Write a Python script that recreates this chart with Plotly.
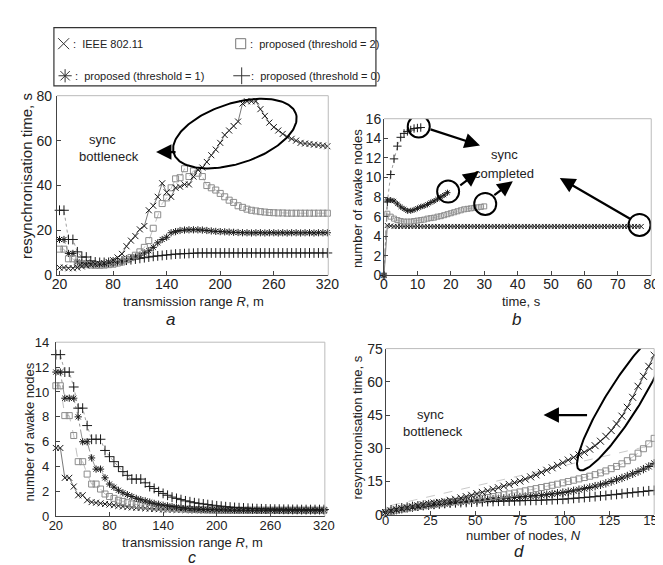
import numpy as np
import plotly.graph_objects as go

W, H = 663, 565
FONT = "Liberation Sans, Arial, Helvetica, sans-serif"

# ---------------- data ----------------
range_R = list(range(20, 321, 5))  # transmission range R, m (panels a and c)

a_ieee = [3.5, 3.5, 3.2, 3.2, 3.5, 4.0, 4.5, 4.8, 5.0, 5.2,
          5.5, 6.0, 6.8, 8.0, 9.6, 13.0, 15.5, 17.5, 20.5, 22.0,
          29.0, 31.0, 35.0, 41.0, 37.0, 35.0, 39.0, 39.5, 40.5, 40.5,
          44.0, 47.0, 48.0, 50.5, 53.5, 56.0, 59.0, 62.5, 64.5, 66.5,
          68.5, 76.5, 77.5, 77.5, 77.5, 74.0, 71.0, 68.0, 66.0, 64.5,
          63.0, 61.7, 60.8, 60.0, 59.0, 58.7, 58.5, 58.2, 58.0, 57.8, 57.5]
a_thr2 = [11.7, 11.7, 7.4, 7.4, 5.5, 5.0, 4.8, 4.6, 4.5, 4.5,
          4.6, 4.8, 5.0, 5.5, 6.0, 7.0, 8.0, 9.0, 10.5, 12.5,
          15.5, 21.0, 27.0, 32.0, 34.5, 39.0, 43.0, 43.5, 47.5, 44.0,
          46.5, 45.5, 44.0, 40.0, 39.0, 38.0, 36.5, 35.0, 33.5, 32.5,
          31.0, 30.3, 29.5, 29.0, 28.7, 28.4, 28.2, 28.0, 27.9, 27.8,
          27.8, 27.7, 27.7, 27.7, 27.7, 27.7, 27.7, 27.7, 27.7, 27.7, 27.7]
a_thr1 = [16.0, 16.0, 9.8, 9.8, 6.0, 5.5, 5.5, 5.2, 5.0, 5.0,
          5.0, 5.2, 5.5, 5.8, 6.2, 6.8, 7.5, 8.2, 9.0, 10.0,
          11.0, 12.5, 14.5, 16.0, 17.0, 19.0, 19.5, 20.0, 20.2, 20.3,
          20.3, 20.3, 20.2, 20.0, 19.8, 19.6, 19.5, 19.4, 19.3, 19.2,
          19.1, 19.0, 19.0, 18.9, 19.0, 19.0, 18.9, 19.0, 19.0, 18.9,
          19.0, 18.9, 19.0, 19.0, 18.9, 19.0, 19.0, 18.9, 19.0, 19.0, 19.0]
a_thr0 = [29.0, 29.0, 16.0, 16.0, 10.5, 8.2, 8.2, 6.5, 6.0, 5.8,
          5.8, 5.8, 6.0, 6.2, 6.5, 6.8, 7.0, 7.3, 7.6, 7.9,
          8.2, 8.5, 8.7, 8.9, 9.1, 9.3, 9.5, 9.6, 9.7, 9.8,
          9.9, 10.0, 10.0, 10.0, 10.0, 10.0, 10.0, 10.0, 10.0, 10.0,
          10.0, 10.0, 10.0, 10.0, 10.0, 10.0, 10.0, 10.0, 10.0, 10.0,
          10.0, 10.0, 10.0, 10.0, 10.0, 10.0, 10.0, 10.0, 10.0, 10.0, 10.0]

# panel b: number of awake nodes vs time
b_t_ieee = list(range(0, 78))
b_ieee = [0.0, 5.1, 5.05, 5.0, 5.0, 5.0, 5.0, 5.0, 5.0, 5.0,
          5.0, 5.0, 5.0, 5.0, 5.0, 5.0, 5.0, 5.0, 5.0, 5.0,
          5.0, 5.0, 5.0, 5.0, 5.0, 5.0, 5.0, 5.0, 5.0, 5.0,
          5.0, 5.0, 5.0, 5.0, 5.0, 5.0, 5.0, 5.0, 5.0, 5.0,
          5.0, 5.0, 5.0, 5.0, 5.0, 5.0, 5.0, 5.0, 5.0, 5.0,
          5.0, 5.0, 5.0, 5.0, 5.0, 5.0, 5.0, 5.0, 5.0, 5.0,
          5.0, 5.0, 5.0, 5.0, 5.0, 5.0, 5.0, 5.0, 5.0, 5.0,
          5.0, 5.0, 5.0, 5.0, 5.0, 5.0, 5.0, 5.0]
b_t_thr2 = list(range(0, 31))
b_thr2 = [0.0, 6.3, 6.0, 5.8, 5.65, 5.55, 5.5, 5.5, 5.5, 5.55,
          5.6, 5.65, 5.7, 5.8, 5.85, 5.9, 6.0, 6.05, 6.15, 6.25,
          6.35, 6.45, 6.55, 6.65, 6.75, 6.8, 6.85, 6.9, 6.95, 7.0, 7.05]
b_t_thr1 = list(range(0, 20))
b_thr1 = [0.0, 7.7, 7.7, 7.6, 7.3, 7.0, 6.8, 6.6, 6.6, 6.7,
          6.85, 7.0, 7.1, 7.25, 7.45, 7.6, 7.8, 8.0, 8.2, 8.45]
b_t_thr0 = list(range(0, 12))
b_thr0 = [0.0, 7.5, 10.3, 11.9, 13.2, 14.1, 14.5, 14.7, 14.85, 15.0, 15.05, 15.1]

# panel c: number of awake nodes vs transmission range
c_ieee = [5.5, 5.5, 3.1, 3.1, 2.4, 1.7, 1.7, 1.3, 1.15, 1.1,
          1.05, 1.0, 0.95, 0.9, 0.85, 0.8, 0.75, 0.72, 0.7, 0.68,
          0.65, 0.62, 0.6, 0.58, 0.56, 0.55, 0.54, 0.53, 0.52, 0.51,
          0.5, 0.5, 0.5, 0.5, 0.5, 0.5, 0.5, 0.5, 0.5, 0.5,
          0.5, 0.5, 0.5, 0.5, 0.5, 0.5, 0.5, 0.5, 0.5, 0.5,
          0.5, 0.5, 0.5, 0.5, 0.5, 0.5, 0.5, 0.5, 0.5, 0.5, 0.5]
c_thr2 = [10.5, 10.5, 8.1, 8.1, 6.5, 4.4, 4.4, 3.4, 2.6, 2.6,
          2.2, 1.8, 1.6, 1.45, 1.3, 1.2, 1.1, 1.0, 0.95, 0.9,
          0.85, 0.8, 0.75, 0.72, 0.7, 0.67, 0.64, 0.62, 0.6, 0.58,
          0.56, 0.55, 0.54, 0.53, 0.52, 0.51, 0.5, 0.5, 0.5, 0.5,
          0.5, 0.5, 0.5, 0.5, 0.5, 0.5, 0.5, 0.5, 0.5, 0.5,
          0.5, 0.5, 0.5, 0.5, 0.5, 0.5, 0.5, 0.5, 0.5, 0.5, 0.5]
c_thr1 = [11.6, 11.6, 9.5, 9.5, 9.5, 8.0, 6.0, 6.0, 4.7, 3.8,
          3.8, 3.1, 2.6, 2.35, 2.1, 1.9, 1.75, 1.6, 1.45, 1.35,
          1.25, 1.15, 1.05, 0.98, 0.9, 0.85, 0.8, 0.75, 0.7, 0.66,
          0.62, 0.6, 0.58, 0.56, 0.55, 0.54, 0.53, 0.52, 0.52, 0.51,
          0.5, 0.5, 0.5, 0.5, 0.5, 0.5, 0.5, 0.5, 0.5, 0.5,
          0.5, 0.5, 0.5, 0.5, 0.5, 0.5, 0.5, 0.5, 0.5, 0.5, 0.5]
c_thr0 = [13.0, 13.0, 11.6, 11.6, 10.4, 8.7, 8.7, 7.3, 6.2, 6.2,
          6.2, 5.3, 4.8, 4.4, 4.0, 3.6, 3.3, 3.0, 3.0, 3.0,
          2.7, 2.4, 2.25, 2.0, 1.85, 1.7, 1.55, 1.45, 1.35, 1.25,
          1.18, 1.1, 1.05, 1.0, 0.95, 0.9, 0.85, 0.82, 0.78, 0.75,
          0.72, 0.7, 0.68, 0.66, 0.64, 0.62, 0.61, 0.6, 0.59, 0.58,
          0.58, 0.57, 0.57, 0.56, 0.56, 0.55, 0.55, 0.55, 0.55, 0.55, 0.55]

# panel d: resynchronisation time vs number of nodes
nodes_N = list(range(0, 151, 3))
d_ieee = [1.0, 1.8, 2.3, 2.8, 3.2, 3.6, 4.0, 4.5, 4.9, 5.3,
          5.6, 6.0, 6.5, 7.0, 7.6, 8.2, 8.8, 9.5, 10.1, 10.8,
          11.5, 12.2, 12.9, 13.7, 14.5, 15.2, 16.1, 17.1, 18.0, 19.1,
          20.1, 21.2, 22.3, 23.5, 24.7, 25.9, 27.0, 28.2, 29.6, 31.2,
          33.2, 35.4, 38.0, 41.0, 44.5, 48.5, 53.0, 58.0, 62.5, 67.0, 72.0]
d_thr2 = [1.0, 1.6, 2.1, 2.6, 3.0, 3.4, 3.8, 4.1, 4.4, 4.7,
          5.0, 5.3, 5.6, 5.9, 6.2, 6.5, 6.8, 7.1, 7.4, 7.8,
          8.2, 8.6, 9.0, 9.4, 9.8, 10.3, 10.8, 11.3, 11.8, 12.3,
          12.8, 13.3, 13.8, 14.4, 15.0, 15.6, 16.2, 16.8, 17.4, 18.1,
          18.9, 19.8, 20.8, 21.8, 23.0, 24.4, 26.0, 27.8, 29.8, 32.0, 34.5]
d_thr1 = [1.0, 1.6, 2.1, 2.5, 2.9, 3.3, 3.6, 3.9, 4.2, 4.5,
          4.8, 5.0, 5.3, 5.5, 5.8, 6.0, 6.2, 6.4, 6.6, 6.8,
          7.0, 7.2, 7.4, 7.6, 7.8, 8.0, 8.2, 8.4, 8.6, 8.8,
          9.1, 9.4, 9.7, 10.0, 10.4, 10.8, 11.3, 11.8, 12.3, 12.9,
          13.5, 14.2, 15.0, 15.8, 16.6, 17.5, 18.5, 19.5, 20.6, 21.8, 23.2]
d_thr0 = [1.5, 2.2, 2.7, 3.1, 3.4, 3.7, 4.0, 4.3, 4.5, 4.7,
          4.9, 5.1, 5.3, 5.4, 5.5, 5.6, 5.7, 5.8, 5.9, 6.0,
          6.0, 6.1, 6.2, 6.2, 6.3, 6.3, 6.4, 6.5, 6.5, 6.6,
          6.7, 6.8, 6.9, 7.0, 7.2, 7.4, 7.6, 7.8, 8.0, 8.2,
          8.5, 8.7, 9.0, 9.2, 9.5, 9.8, 10.0, 10.3, 10.5, 10.8, 11.0]
d_ref_N = [3, 150]
d_ref = [4.2, 31.6]

# ---------------- geometry (pixels) ----------------
G = {
    'a': dict(px=(43, 322), py=(82, 267), xr=(17, 321), yr=(0, 80)),
    'b': dict(px=(379.3, 654), py=(105.7, 267), xr=(0, 80), yr=(0, 16)),
    'c': dict(px=(42, 318.5), py=(335.7, 515), xr=(20, 321), yr=(0, 14)),
    'd': dict(px=(381, 657), py=(342.3, 513.3), xr=(0, 150), yr=(0, 75)),
}
AX = {'a': ('x', 'y'), 'b': ('x2', 'y2'), 'c': ('x3', 'y3'), 'd': ('x4', 'y4')}
XSTAND = {'a': -4, 'b': -4, 'c': -3, 'd': -6}
YSTAND = {'a': 1, 'b': -1, 'c': 3, 'd': -1}
TFS = {'a': 14, 'b': 14, 'c': 13, 'd': 13}


def to_data(k, px, py):
    g = G[k]
    px = np.asarray(px, dtype=float)
    py = np.asarray(py, dtype=float)
    x = g['xr'][0] + (px - g['px'][0]) * (g['xr'][1] - g['xr'][0]) / (g['px'][1] - g['px'][0])
    y = g['yr'][0] + (g['py'][1] - py) * (g['yr'][1] - g['yr'][0]) / (g['py'][1] - g['py'][0])
    return x, y


def ellipse_px(cx, cy, a, b, ang, n=200):
    t = np.linspace(0, 2 * np.pi, n)
    th = np.radians(ang)
    px = cx + a * np.cos(t) * np.cos(th) - b * np.sin(t) * np.sin(th)
    py = cy - (a * np.cos(t) * np.sin(th) + b * np.sin(t) * np.cos(th))
    return px, py


STY = {
    'ieee': dict(sym='x-thin-open', mc='#1a1a1a', lc='#555555', dash='solid', ms=6),
    'thr2': dict(sym='square-open', mc='#8c8c8c', lc='#b0b0b0', dash='dash', ms=6),
    'thr1': dict(sym='asterisk-open', mc='#1a1a1a', lc='#777777', dash='dashdot', ms=6),
    'thr0': dict(sym='cross-thin-open', mc='#1a1a1a', lc='#888888', dash='dot', ms=7),
}

fig = go.Figure()


def add_series(k, x, y, s, ms=None, lw=0.8):
    st = STY[s]
    xa, ya = AX[k]
    fig.add_trace(go.Scatter(
        x=x, y=y, mode='lines+markers', xaxis=xa, yaxis=ya, showlegend=False,
        cliponaxis=False,
        line=dict(color=st['lc'], width=lw, dash=st['dash']),
        marker=dict(symbol=st['sym'], size=ms or st['ms'], color=st['mc'],
                    line=dict(color=st['mc'], width=1))))


# panel a
add_series('a', range_R, a_thr0, 'thr0')
add_series('a', range_R, a_thr1, 'thr1')
add_series('a', range_R, a_thr2, 'thr2')
add_series('a', range_R, a_ieee, 'ieee')
# panel b
add_series('b', b_t_ieee, b_ieee, 'ieee', ms=5)
add_series('b', b_t_thr2, b_thr2, 'thr2', ms=5)
add_series('b', b_t_thr1, b_thr1, 'thr1', ms=5)
add_series('b', b_t_thr0, b_thr0, 'thr0', ms=6)
# panel c
add_series('c', range_R, c_ieee, 'ieee')
add_series('c', range_R, c_thr2, 'thr2')
add_series('c', range_R, c_thr1, 'thr1')
add_series('c', range_R, c_thr0, 'thr0')
# panel d
fig.add_trace(go.Scatter(x=d_ref_N, y=d_ref, mode='lines', xaxis='x4', yaxis='y4',
                         showlegend=False, line=dict(color='#bbbbbb', width=0.8, dash='dash')))
add_series('d', nodes_N, d_thr0, 'thr0', ms=7, lw=1.2)
add_series('d', nodes_N, d_thr1, 'thr1', ms=7, lw=1.2)
add_series('d', nodes_N, d_thr2, 'thr2', ms=6)
add_series('d', nodes_N, d_ieee, 'ieee', ms=7, lw=1.2)

# ellipses (annotation outlines)
ex, ey = to_data('a', *ellipse_px(226, 121, 66, 31, 18))
fig.add_trace(go.Scatter(x=ex, y=ey, mode='lines', xaxis='x', yaxis='y', showlegend=False,
                         line=dict(color='black', width=2)))
ex, ey = to_data('d', *ellipse_px(625, 395, 85, 17, 58))
fig.add_trace(go.Scatter(x=ex, y=ey, mode='lines', xaxis='x4', yaxis='y4', showlegend=False,
                         line=dict(color='black', width=2)))

# legend symbols (overlay axis)
LG = dict(px=(40, 371), py=(12, 72))


def lg(px, py):
    return (px - LG['px'][0]) / (LG['px'][1] - LG['px'][0]), 1 - (py - LG['py'][0]) / (LG['py'][1] - LG['py'][0])


for s, (px, py), size in [('ieee', (50, 28.5), 11), ('thr2', (232, 28.5), 10),
                          ('thr1', (51.5, 61.5), 11), ('thr0', (233, 61.5), 12)]:
    lx, ly = lg(px, py)
    col = '#333333' if s != 'thr2' else '#777777'
    fig.add_trace(go.Scatter(x=[lx], y=[ly], mode='markers', xaxis='x5', yaxis='y5', showlegend=False,
                             cliponaxis=False,
                             marker=dict(symbol=STY[s]['sym'], size=size, color=col,
                                         line=dict(color=col, width=1))))

annotations = []
shapes = []


def ptext(text, px, py, size=13, angle=0, xanchor='center', italic=False, color='#222222'):
    if italic:
        text = '<i>' + text + '</i>'
    annotations.append(dict(text=text, x=px / W, y=1 - py / H, xref='paper', yref='paper',
                            showarrow=False, xanchor=xanchor, yanchor='middle', textangle=angle,
                            font=dict(family=FONT, size=size, color=color)))


# legend box + texts
shapes.append(dict(type='rect', xref='paper', yref='paper', x0=40 / W, x1=371 / W,
                   y0=1 - 72 / H, y1=1 - 12 / H, line=dict(color='#333333', width=1.2)))
ptext(':  IEEE 802.11', 58, 28.5, size=11, xanchor='left')
ptext(':  proposed (threshold = 2)', 240, 28.5, size=11, xanchor='left')
ptext(':  proposed (threshold = 1)', 60, 61.5, size=11, xanchor='left')
ptext(':  proposed (threshold = 0)', 241, 61.5, size=11, xanchor='left')

# axis titles
ptext('transmission range <i>R</i>, m', 183, 294)
ptext('resynchronisation time, s', 12, 165, angle=-90, size=15)
ptext('time, s', 521, 294)
ptext('number of awake nodes', 352, 188, angle=-90)
ptext('transmission range <i>R</i>, m', 182, 542)
ptext('number of awake nodes', 15, 428, angle=-90)
ptext('number of nodes, <i>N</i>', 523, 535)
ptext('resynchronisation time, s', 352, 423, angle=-90)

# panel letters
ptext('a', 160, 312, size=17, italic=True)
ptext('b', 516, 312, size=17, italic=True)
ptext('c', 182, 557, size=16, italic=True)
ptext('d', 518, 551, size=17, italic=True)

# in-plot texts
ptext('sync', 90, 127, size=13)
ptext('bottleneck', 97, 145, size=13)
ptext('sync', 503, 143, size=13)
ptext('completed', 503, 162, size=13)
ptext('sync', 427, 410, size=13)
ptext('bottleneck', 430, 428, size=13)


def arrow(k, tip, tail):
    x, y = to_data(k, tip[0], tip[1])
    xa, ya = AX[k]
    annotations.append(dict(x=float(x), y=float(y), xref=xa, yref=ya, text='', showarrow=True,
                            ax=tail[0] - tip[0], ay=tail[1] - tip[1], arrowhead=2,
                            arrowsize=1.4, arrowwidth=2.2, arrowcolor='black'))


arrow('a', (145, 140), (166, 140))
arrow('b', (478, 133.3), (427, 116.7))
arrow('b', (476.7, 160), (456.7, 175))
arrow('b', (511.7, 170), (491.7, 185))
arrow('b', (560, 166.7), (631.7, 208.3))
arrow('d', (543.3, 410.7), (588.3, 410.7))

# circles in panel b
for (t, v) in [(10.4, 15.2), (19.2, 8.56), (30.3, 7.3), (76.5, 5.16)]:
    shapes.append(dict(type='circle', xref='x2', yref='y2', xsizemode='pixel', ysizemode='pixel',
                       xanchor=t, yanchor=v, x0=-11, x1=11, y0=-11, y1=11,
                       line=dict(color='black', width=2)))

# faint top/right box lines
for k in G:
    g = G[k]
    x0, x1 = g['px'][0] / W, g['px'][1] / W
    y0, y1 = 1 - g['py'][1] / H, 1 - g['py'][0] / H
    shapes.append(dict(type='line', xref='paper', yref='paper', x0=x0, x1=x1, y0=y1, y1=y1,
                       line=dict(color='#bbbbbb', width=1)))
    shapes.append(dict(type='line', xref='paper', yref='paper', x0=x1, x1=x1, y0=y0, y1=y1,
                       line=dict(color='#bbbbbb', width=1)))


def axis_common(fs):
    return dict(showgrid=False, zeroline=False, showline=True, linecolor='#444444', linewidth=1,
                ticks='inside', ticklen=4, tickcolor='#444444',
                tickfont=dict(family=FONT, size=fs, color='#222222'))


TICKS = {
    'a': ([20, 80, 140, 200, 260, 320], [0, 20, 40, 60, 80]),
    'b': ([0, 10, 20, 30, 40, 50, 60, 70, 80], [0, 2, 4, 6, 8, 10, 12, 14, 16]),
    'c': ([20, 80, 140, 200, 260, 320], [0, 2, 4, 6, 8, 10, 12, 14]),
    'd': ([0, 25, 50, 75, 100, 125, 150], [0, 15, 30, 45, 60, 75]),
}
layout_axes = {}
for i, k in enumerate(['a', 'b', 'c', 'd']):
    g = G[k]
    sfx = '' if i == 0 else str(i + 1)
    xa = axis_common(TFS[k])
    xa.update(domain=[g['px'][0] / W, g['px'][1] / W], range=list(g['xr']),
              tickvals=TICKS[k][0], anchor='y' + sfx, ticklabelstandoff=XSTAND[k])
    ya = axis_common(14 if k != 'c' else 13)
    ya.update(domain=[1 - g['py'][1] / H, 1 - g['py'][0] / H], range=list(g['yr']),
              tickvals=TICKS[k][1], anchor='x' + sfx, ticklabelstandoff=YSTAND[k])
    layout_axes['xaxis' + sfx] = xa
    layout_axes['yaxis' + sfx] = ya

layout_axes['xaxis5'] = dict(domain=[LG['px'][0] / W, LG['px'][1] / W], range=[0, 1], visible=False,
                             anchor='y5', fixedrange=True)
layout_axes['yaxis5'] = dict(domain=[1 - LG['py'][1] / H, 1 - LG['py'][0] / H], range=[0, 1],
                             visible=False, anchor='x5', fixedrange=True)

fig.update_layout(width=W, height=H, margin=dict(l=0, r=0, t=0, b=0),
                  paper_bgcolor='white', plot_bgcolor='white', showlegend=False,
                  font=dict(family=FONT, size=13, color='#222222'),
                  annotations=annotations, shapes=shapes, **layout_axes)

fig.write_html("out.html")
